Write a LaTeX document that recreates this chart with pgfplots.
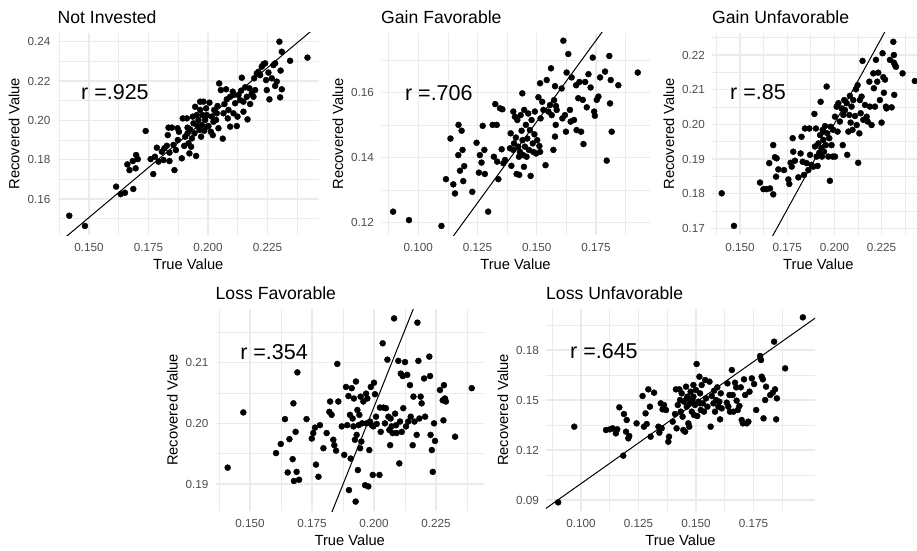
\documentclass[border=0pt]{standalone}
\usepackage{fontspec}
\setmainfont{Liberation Sans}
\usepackage{pgfplots}
\pgfplotsset{compat=1.18}
\definecolor{gridc}{RGB}{235,235,235}
\definecolor{tickc}{RGB}{77,77,77}
\newcommand{\ticksz}{\fontsize{11.7}{13}\selectfont}
\newcommand{\labsz}{\fontsize{14.7}{16}\selectfont}
\newcommand{\titsz}{\fontsize{17.6}{20}\selectfont}
\newcommand{\rsz}{\fontsize{21.5}{24}\selectfont}
\pgfplotsset{gg/.style={scale only axis, anchor=south west,
  axis line style={draw=none}, major tick length=0pt, minor tick length=0pt,
  grid=both, major grid style={draw=gridc, line width=1.4pt},
  minor grid style={draw=gridc, line width=0.7pt},
  xticklabel style={font=\ticksz, text=tickc, anchor=base, yshift=-16.5pt, inner sep=0pt},
  yticklabel style={font=\ticksz, text=tickc, anchor=east, xshift=-7pt, inner sep=0pt},
  clip mode=individual, scaled ticks=false},
  pts/.style={only marks, mark=*, mark size=3pt, mark options={fill=black, draw=none}},
  fit/.style={black, line width=1pt, no marks}}
\begin{document}
\begin{tikzpicture}
\useasboundingbox (0pt,-550pt) rectangle (917pt,0pt);
% ---------- Panel 1: Not Invested
\begin{axis}[gg, name=p1, at={(57.5pt,-235pt)}, width=261.5pt, height=202.5pt,
  xmin=0.13676, xmax=0.24664, ymin=0.14170, ymax=0.24468,
  xtick={0.150,0.175,0.200,0.225}, xticklabels={0.150,0.175,0.200,0.225},
  minor xtick={0.1375,0.1625,0.1875,0.2125,0.2375},
  ytick={0.16,0.18,0.20,0.22,0.24}, yticklabels={0.16,0.18,0.20,0.22,0.24},
  minor ytick={0.15,0.17,0.19,0.21,0.23}]
\addplot[pts] coordinates {(0.1417,0.1515) (0.1483,0.1463) (0.1614,0.1663) (0.1633,0.1625) (0.1651,0.1632) (0.1686,0.1651) (0.1661,0.1776) (0.1670,0.1747) (0.1684,0.1793) (0.1698,0.1824) (0.1705,0.1803) (0.1696,0.1756) (0.1738,0.1946) (0.1759,0.1803) (0.1770,0.1727) (0.1777,0.1815) (0.1785,0.1861) (0.1792,0.1790) (0.1806,0.1841) (0.1817,0.1858) (0.1827,0.1871) (0.1834,0.1963) (0.1831,0.1925) (0.1838,0.1836) (0.1838,0.1793) (0.1848,0.1963) (0.1855,0.1875) (0.1859,0.1747) (0.1865,0.1849) (0.1872,0.1960) (0.1873,0.1900) (0.1890,0.1807) (0.1894,0.2010) (0.1900,0.1870) (0.1904,0.1917) (0.1911,0.2010) (0.1914,0.1934) (0.1918,0.1883) (0.1922,0.1832) (0.1925,0.1954) (0.1929,0.1866) (0.1932,0.1908) (0.1939,0.1985) (0.1943,0.1934) (0.1946,0.2069) (0.1950,0.1819) (0.1953,0.2027) (0.1956,0.1971) (0.1960,0.2002) (0.1964,0.1951) (0.1967,0.2053) (0.1971,0.1917) (0.1974,0.1976) (0.1977,0.2027) (0.1981,0.2095) (0.1984,0.1947) (0.1988,0.2002) (0.1992,0.2061) (0.1995,0.2027) (0.2002,0.1971) (0.2006,0.2090) (0.2012,0.1942) (0.2016,0.2019) (0.2020,0.1925) (0.2026,0.2053) (0.2034,0.2002) (0.2040,0.2073) (0.2044,0.1960) (0.2047,0.2188) (0.2054,0.2154) (0.2062,0.1907) (0.2065,0.2036) (0.2069,0.2083) (0.2076,0.2158) (0.2079,0.2107) (0.2083,0.2010) (0.2086,0.2053) (0.2093,0.2120) (0.2104,0.2146) (0.2107,0.2036) (0.2114,0.2087) (0.2121,0.1971) (0.2124,0.2019) (0.2128,0.2129) (0.2135,0.2103) (0.2139,0.2151) (0.2142,0.2217) (0.2149,0.2095) (0.2156,0.2168) (0.2163,0.2120) (0.2166,0.2005) (0.2174,0.2163) (0.2177,0.2083) (0.2184,0.2137) (0.2191,0.2120) (0.2194,0.2214) (0.2198,0.2154) (0.2205,0.2239) (0.2212,0.2247) (0.2219,0.2230) (0.2226,0.2273) (0.2233,0.2286) (0.2240,0.2290) (0.2244,0.2205) (0.2247,0.2154) (0.2254,0.2243) (0.2258,0.2107) (0.2268,0.2214) (0.2275,0.2281) (0.2282,0.2290) (0.2289,0.2197) (0.2300,0.2400) (0.2303,0.2117) (0.2305,0.2253) (0.2310,0.2349) (0.2310,0.2158) (0.2345,0.2303) (0.2418,0.2319) (0.2282,0.2175) (0.2149,0.2044) (0.2093,0.1968) (0.1914,0.1963) (0.1878,0.1942) (0.1813,0.1798) (0.1936,0.2019) (0.2023,0.1993) (0.1967,0.2095) (0.2107,0.2129) (0.1995,0.1968) (0.2037,0.2036)};
\addplot[fit] coordinates {(0.130,0.1303) (0.250,0.2522)};
\node[font=\rsz, inner sep=0pt] at (axis cs:0.1609,0.2144) {r =.925};
\end{axis}
% ---------- Panel 2: Gain Favorable
\begin{axis}[gg, name=p2, at={(381pt,-235pt)}, width=269pt, height=202.5pt,
  xmin=0.08430, xmax=0.19776, ymin=0.11622, ymax=0.17852,
  xtick={0.100,0.125,0.150,0.175}, xticklabels={0.100,0.125,0.150,0.175},
  minor xtick={0.0875,0.1125,0.1375,0.1625,0.1875},
  ytick={0.12,0.14,0.16}, yticklabels={0.12,0.14,0.16},
  minor ytick={0.13,0.15,0.17}]
\addplot[pts] coordinates {(0.0894,0.1234) (0.0961,0.1208) (0.1098,0.1190) (0.1117,0.1334) (0.1136,0.1459) (0.1148,0.1318) (0.1155,0.1290) (0.1169,0.1408) (0.1170,0.1501) (0.1176,0.1360) (0.1183,0.1483) (0.1187,0.1424) (0.1190,0.1328) (0.1194,0.1374) (0.1228,0.1295) (0.1246,0.1446) (0.1256,0.1354) (0.1260,0.1408) (0.1267,0.1385) (0.1272,0.1498) (0.1281,0.1350) (0.1279,0.1424) (0.1295,0.1234) (0.1314,0.1501) (0.1319,0.1403) (0.1325,0.1565) (0.1331,0.1501) (0.1333,0.1388) (0.1338,0.1334) (0.1345,0.1552) (0.1352,0.1426) (0.1355,0.1549) (0.1359,0.1383) (0.1366,0.1393) (0.1387,0.1429) (0.1393,0.1375) (0.1390,0.1475) (0.1401,0.1542) (0.1404,0.1444) (0.1408,0.1526) (0.1412,0.1462) (0.1415,0.1350) (0.1418,0.1516) (0.1422,0.1434) (0.1425,0.1403) (0.1426,0.1347) (0.1429,0.1418) (0.1432,0.1531) (0.1436,0.1483) (0.1439,0.1598) (0.1440,0.1454) (0.1443,0.1408) (0.1447,0.1547) (0.1450,0.1434) (0.1454,0.1501) (0.1457,0.1403) (0.1460,0.1459) (0.1464,0.1536) (0.1467,0.1424) (0.1471,0.1485) (0.1474,0.1344) (0.1478,0.1516) (0.1483,0.1444) (0.1485,0.1418) (0.1490,0.1472) (0.1492,0.1542) (0.1497,0.1413) (0.1502,0.1454) (0.1507,0.1586) (0.1511,0.1436) (0.1514,0.1629) (0.1516,0.1521) (0.1523,0.1572) (0.1528,0.1547) (0.1537,0.1377) (0.1542,0.1639) (0.1549,0.1542) (0.1556,0.1562) (0.1560,0.1675) (0.1563,0.1531) (0.1570,0.1424) (0.1573,0.1577) (0.1577,0.1620) (0.1580,0.1501) (0.1581,0.1559) (0.1577,0.1465) (0.1584,0.1547) (0.1605,0.1613) (0.1608,0.1521) (0.1612,0.1760) (0.1619,0.1531) (0.1623,0.1480) (0.1626,0.1662) (0.1633,0.1719) (0.1640,0.1547) (0.1643,0.1511) (0.1647,0.1647) (0.1657,0.1516) (0.1666,0.1623) (0.1668,0.1485) (0.1675,0.1583) (0.1680,0.1633) (0.1687,0.1480) (0.1694,0.1578) (0.1697,0.1442) (0.1704,0.1633) (0.1711,0.1555) (0.1718,0.1657) (0.1727,0.1616) (0.1736,0.1708) (0.1742,0.1542) (0.1745,0.1529) (0.1753,0.1578) (0.1760,0.1588) (0.1767,0.1647) (0.1788,0.1665) (0.1795,0.1391) (0.1806,0.1713) (0.1809,0.1567) (0.1812,0.1639) (0.1816,0.1480) (0.1844,0.1623) (0.1926,0.1662) (0.1401,0.1424) (0.1446,0.1372) (0.1514,0.1418)};
\addplot[fit] coordinates {(0.080,0.0811) (0.200,0.2011)};
\node[font=\rsz, inner sep=0pt] at (axis cs:0.1087,0.1600) {r =.706};
\end{axis}
% ---------- Panel 3: Gain Unfavorable
\begin{axis}[gg, name=p3, at={(712pt,-235pt)}, width=212.7pt, height=202.5pt,
  xmin=0.13517, xmax=0.24783, ymin=0.16807, ymax=0.22649,
  xtick={0.150,0.175,0.200,0.225}, xticklabels={0.150,0.175,0.200,0.225},
  minor xtick={0.1375,0.1625,0.1875,0.2125,0.2375},
  ytick={0.17,0.18,0.19,0.20,0.21,0.22}, yticklabels={0.17,0.18,0.19,0.20,0.21,0.22},
  minor ytick={0.175,0.185,0.195,0.205,0.215,0.225}]
\addplot[pts] coordinates {(0.1403,0.1801) (0.1468,0.1707) (0.1606,0.1832) (0.1624,0.1813) (0.1641,0.1813) (0.1659,0.1815) (0.1676,0.1798) (0.1655,0.1888) (0.1676,0.1940) (0.1685,0.1905) (0.1694,0.1902) (0.1691,0.1849) (0.1703,0.1870) (0.1733,0.1868) (0.1756,0.1841) (0.1761,0.1828) (0.1768,0.1889) (0.1774,0.1878) (0.1779,0.1960) (0.1782,0.1921) (0.1791,0.1895) (0.1809,0.1847) (0.1821,0.1916) (0.1826,0.1964) (0.1832,0.1892) (0.1839,0.1854) (0.1844,0.1988) (0.1853,0.1888) (0.1862,0.1868) (0.1867,0.1988) (0.1871,0.1912) (0.1879,0.1883) (0.1888,0.1878) (0.1894,0.2030) (0.1897,0.1936) (0.1902,0.1988) (0.1906,0.1907) (0.1911,0.1880) (0.1915,0.1945) (0.1920,0.1918) (0.1924,0.1969) (0.1927,0.2065) (0.1931,0.1931) (0.1934,0.1907) (0.1938,0.1984) (0.1941,0.1955) (0.1945,0.1921) (0.1950,0.1995) (0.1955,0.1940) (0.1959,0.2109) (0.1962,0.1974) (0.1968,0.1907) (0.1973,0.1960) (0.1976,0.1837) (0.1980,0.1993) (0.1985,0.1940) (0.1991,0.1907) (0.1994,0.1984) (0.2003,0.2022) (0.2012,0.2051) (0.2017,0.1979) (0.2021,0.2061) (0.2029,0.2008) (0.2038,0.2046) (0.2044,0.1940) (0.2047,0.2027) (0.2052,0.2070) (0.2056,0.2041) (0.2065,0.2061) (0.2068,0.1912) (0.2074,0.1979) (0.2079,0.2027) (0.2082,0.2082) (0.2086,0.2005) (0.2091,0.2051) (0.2096,0.1984) (0.2100,0.2070) (0.2109,0.2024) (0.2114,0.2101) (0.2118,0.1998) (0.2123,0.2113) (0.2126,0.1889) (0.2132,0.1974) (0.2135,0.2070) (0.2139,0.2032) (0.2144,0.2080) (0.2149,0.2183) (0.2153,0.2013) (0.2162,0.2056) (0.2171,0.2022) (0.2176,0.2008) (0.2185,0.2123) (0.2188,0.2051) (0.2197,0.1998) (0.2206,0.2147) (0.2209,0.2104) (0.2215,0.2051) (0.2220,0.2186) (0.2227,0.2123) (0.2232,0.2149) (0.2250,0.2005) (0.2255,0.2205) (0.2259,0.2136) (0.2262,0.2091) (0.2268,0.2129) (0.2273,0.2051) (0.2276,0.2046) (0.2294,0.2186) (0.2303,0.2049) (0.2312,0.2238) (0.2315,0.2178) (0.2315,0.2200) (0.2317,0.2085) (0.2321,0.2171) (0.2326,0.2166) (0.2361,0.2147) (0.2426,0.2125) (0.2241,0.2070) (0.1941,0.1979) (0.2003,0.1907)};
\addplot[fit] coordinates {(0.160,0.1606) (0.250,0.2497)};
\node[font=\rsz, inner sep=0pt] at (axis cs:0.1595,0.2093) {r =.85};
\end{axis}
% ---------- Panel 4: Loss Favorable
\begin{axis}[gg, name=p4, at={(215.5pt,-511pt)}, width=268.5pt, height=202pt,
  xmin=0.13609, xmax=0.24435, ymin=0.18555, ymax=0.21885,
  xtick={0.150,0.175,0.200,0.225}, xticklabels={0.150,0.175,0.200,0.225},
  minor xtick={0.1375,0.1625,0.1875,0.2125,0.2375},
  ytick={0.19,0.20,0.21}, yticklabels={0.19,0.20,0.21},
  minor ytick={0.185,0.195,0.205,0.215}]
\addplot[pts] coordinates {(0.1410,0.1927) (0.1473,0.2018) (0.1605,0.1951) (0.1624,0.1966) (0.1641,0.2007) (0.1652,0.1919) (0.1659,0.1974) (0.1672,0.1941) (0.1675,0.2033) (0.1677,0.1905) (0.1684,0.1986) (0.1688,0.1920) (0.1691,0.2084) (0.1698,0.1907) (0.1728,0.2007) (0.1749,0.1975) (0.1755,0.1984) (0.1762,0.1993) (0.1766,0.1932) (0.1776,0.1912) (0.1782,0.1997) (0.1809,0.1984) (0.1796,0.1959) (0.1820,0.2019) (0.1823,0.2036) (0.1829,0.2014) (0.1836,0.1973) (0.1840,0.1964) (0.1847,0.1955) (0.1852,0.2098) (0.1856,0.2036) (0.1870,0.1995) (0.1880,0.1948) (0.1887,0.2060) (0.1892,0.1997) (0.1897,0.2045) (0.1899,0.1890) (0.1903,0.2014) (0.1906,0.1942) (0.1910,0.2058) (0.1914,0.2008) (0.1917,0.1995) (0.1919,0.2041) (0.1923,0.1973) (0.1926,0.1871) (0.1927,0.2069) (0.1930,0.1981) (0.1933,0.2022) (0.1935,0.1923) (0.1938,0.1997) (0.1941,0.2014) (0.1944,0.1959) (0.1946,0.2044) (0.1949,0.1970) (0.1952,0.2000) (0.1957,0.2036) (0.1964,0.1898) (0.1968,0.2049) (0.1970,0.2000) (0.1973,0.2041) (0.1977,0.1896) (0.1981,0.1956) (0.1984,0.2003) (0.1987,0.2060) (0.1991,0.1997) (0.1995,0.1915) (0.1997,0.1995) (0.2000,0.2067) (0.2004,0.2048) (0.2008,0.2011) (0.2011,0.1999) (0.2022,0.1915) (0.2024,0.2026) (0.2027,0.1986) (0.2035,0.2132) (0.2038,0.2026) (0.2044,0.2000) (0.2048,0.2025) (0.2054,0.2105) (0.2058,0.2011) (0.2062,0.1989) (0.2065,0.1964) (0.2067,0.2008) (0.2071,0.1995) (0.2075,0.1984) (0.2081,0.2173) (0.2085,0.2016) (0.2089,0.1997) (0.2091,0.1984) (0.2098,0.2103) (0.2102,0.1934) (0.2105,0.2003) (0.2108,0.2082) (0.2112,0.1986) (0.2116,0.2078) (0.2118,0.2025) (0.2125,0.2101) (0.2129,0.1995) (0.2134,0.2080) (0.2138,0.2003) (0.2145,0.2063) (0.2148,0.2011) (0.2156,0.1964) (0.2159,0.2044) (0.2163,0.2003) (0.2172,0.1981) (0.2175,0.2166) (0.2179,0.2103) (0.2183,0.2008) (0.2188,0.2044) (0.2192,0.2033) (0.2202,0.2074) (0.2206,0.2011) (0.2223,0.2110) (0.2226,0.2078) (0.2228,0.1981) (0.2233,0.1956) (0.2237,0.1920) (0.2242,0.2000) (0.2246,0.1971) (0.2266,0.2055) (0.2277,0.2038) (0.2282,0.2063) (0.2286,0.2041) (0.2290,0.2036) (0.2280,0.2005) (0.2327,0.1978) (0.2394,0.2058)};
\addplot[fit] coordinates {(0.180,0.1823) (0.225,0.2282)};
\node[font=\rsz, inner sep=0pt] at (axis cs:0.1597,0.2118) {r =.354};
\end{axis}
% ---------- Panel 5: Loss Unfavorable
\begin{axis}[gg, name=p5, at={(546pt,-511pt)}, width=269pt, height=202pt,
  xmin=0.08481, xmax=0.20178, ymin=0.08340, ymax=0.20460,
  xtick={0.100,0.125,0.150,0.175}, xticklabels={0.100,0.125,0.150,0.175},
  minor xtick={0.0875,0.1125,0.1375,0.1625,0.1875},
  ytick={0.09,0.12,0.15,0.18}, yticklabels={0.09,0.12,0.15,0.18},
  minor ytick={0.105,0.135,0.165,0.195}]
\addplot[pts] coordinates {(0.0901,0.0886) (0.0971,0.1340) (0.1109,0.1320) (0.1126,0.1324) (0.1138,0.1330) (0.1152,0.1300) (0.1167,0.1456) (0.1158,0.1324) (0.1184,0.1166) (0.1187,0.1416) (0.1196,0.1310) (0.1199,0.1380) (0.1206,0.1270) (0.1210,0.1284) (0.1242,0.1360) (0.1268,0.1524) (0.1274,0.1340) (0.1281,0.1420) (0.1286,0.1356) (0.1293,0.1564) (0.1300,0.1460) (0.1303,0.1280) (0.1318,0.1544) (0.1337,0.1340) (0.1341,0.1304) (0.1347,0.1480) (0.1351,0.1330) (0.1355,0.1444) (0.1361,0.1470) (0.1370,0.1440) (0.1380,0.1250) (0.1383,0.1280) (0.1399,0.1370) (0.1409,0.1416) (0.1413,0.1564) (0.1416,0.1330) (0.1421,0.1470) (0.1428,0.1564) (0.1431,0.1500) (0.1434,0.1430) (0.1438,0.1540) (0.1442,0.1400) (0.1445,0.1320) (0.1448,0.1490) (0.1453,0.1310) (0.1457,0.1580) (0.1460,0.1460) (0.1463,0.1520) (0.1467,0.1360) (0.1471,0.1340) (0.1474,0.1480) (0.1477,0.1550) (0.1482,0.1430) (0.1485,0.1500) (0.1489,0.1590) (0.1492,0.1410) (0.1496,0.1470) (0.1500,0.1560) (0.1503,0.1716) (0.1506,0.1404) (0.1511,0.1490) (0.1515,0.1640) (0.1518,0.1540) (0.1521,0.1440) (0.1525,0.1590) (0.1530,0.1480) (0.1535,0.1430) (0.1540,0.1620) (0.1544,0.1510) (0.1550,0.1460) (0.1559,0.1610) (0.1564,0.1340) (0.1569,0.1524) (0.1576,0.1480) (0.1579,0.1556) (0.1583,0.1430) (0.1588,0.1500) (0.1593,0.1576) (0.1598,0.1460) (0.1602,0.1490) (0.1605,0.1384) (0.1608,0.1540) (0.1612,0.1450) (0.1634,0.1484) (0.1637,0.1600) (0.1641,0.1460) (0.1646,0.1530) (0.1648,0.1430) (0.1656,0.1680) (0.1660,0.1530) (0.1663,0.1430) (0.1670,0.1604) (0.1675,0.1576) (0.1677,0.1496) (0.1682,0.1440) (0.1689,0.1464) (0.1695,0.1576) (0.1699,0.1380) (0.1704,0.1360) (0.1709,0.1624) (0.1714,0.1530) (0.1721,0.1360) (0.1728,0.1370) (0.1733,0.1550) (0.1743,0.1630) (0.1753,0.1596) (0.1762,0.1440) (0.1779,0.1764) (0.1783,0.1740) (0.1786,0.1640) (0.1791,0.1624) (0.1794,0.1390) (0.1801,0.1500) (0.1805,0.1580) (0.1823,0.1530) (0.1834,0.1544) (0.1840,0.1850) (0.1844,0.1564) (0.1849,0.1384) (0.1852,0.1510) (0.1888,0.1690) (0.1965,0.1996) (0.1489,0.1520) (0.1460,0.1510) (0.1518,0.1480)};
\addplot[fit] coordinates {(0.080,0.0803) (0.210,0.2071)};
\node[font=\rsz, inner sep=0pt] at (axis cs:0.110,0.1794) {r =.645};
\end{axis}
% ---------- titles and axis titles
\foreach \p/\t in {p1/Not Invested, p2/Gain Favorable, p3/Gain Unfavorable, p4/Loss Favorable, p5/Loss Unfavorable}{
  \node[font=\titsz, anchor=base west, inner sep=0pt] at ([yshift=9.5pt]\p.north west) {\t};
  \node[font=\labsz, anchor=base, inner sep=0pt] at ([yshift=-34pt]\p.south) {True Value};
  \node[font=\labsz, anchor=base, inner sep=0pt, rotate=90] at ([xshift=-38pt]\p.west) {Recovered Value};
}
\end{tikzpicture}
\end{document}
